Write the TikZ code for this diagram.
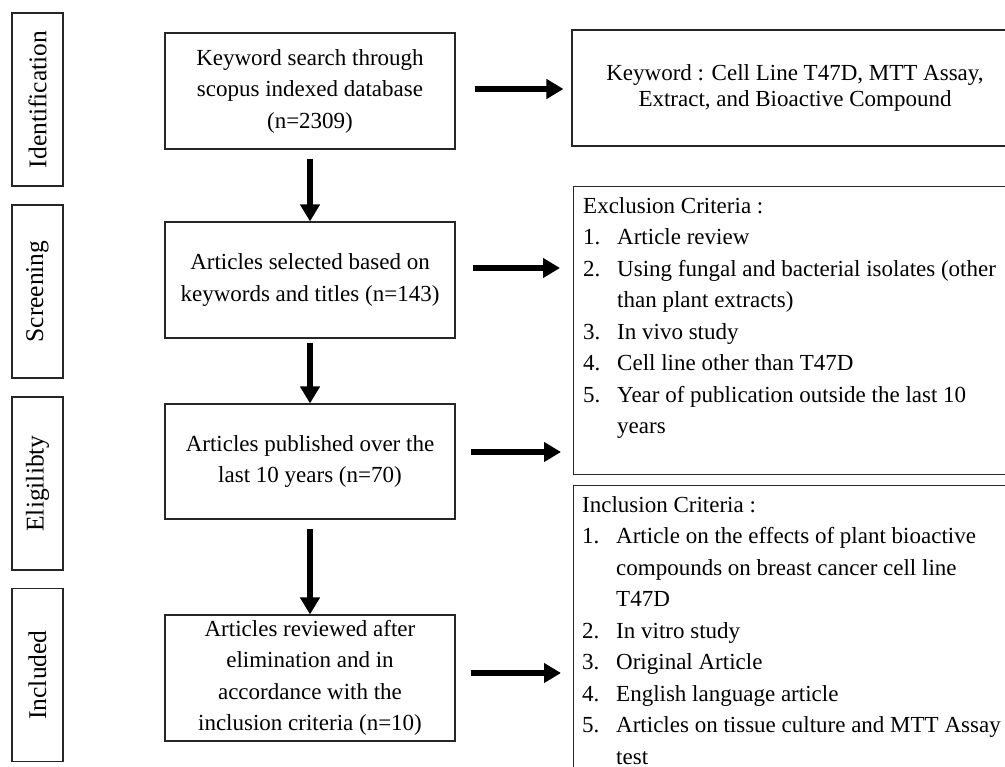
\documentclass[tikz,border=0pt]{standalone}
\usepackage{fontspec}
\setmainfont{Liberation Serif}
\usetikzlibrary{arrows.meta}
\begin{document}
\begin{tikzpicture}[x=1pt,y=-1pt,
  frame/.style={draw=black!85, line width=1.1pt, inner sep=0pt},
  box/.style={frame, align=center, font=\fontsize{23}{31.5}\selectfont, minimum width=290pt},
  stage/.style={frame, rotate=90, minimum width=173pt, minimum height=51pt, font=\fontsize{25.5}{30}\selectfont},
  listtext/.style={anchor=north west, inner sep=0pt, align=left, font=\fontsize{23}{31.5}\selectfont},
  bigarrow/.style={line width=6.5pt, -{Triangle[length=17pt,width=19pt]}},
]
\useasboundingbox (0,0) rectangle (1005,767);
\clip (0,0) rectangle (1005,767);

% stage labels
\node[stage] (s1) at (37.5,99.5) {Identification};
\node[stage] (s2) at (37.5,291.5) {Screening};
\node[stage] (s3) at (37.5,483.5) {Eligilibty};
\node[stage] (s4) at (37.5,675) {Included};

% main boxes
\node[box, minimum height=116pt] (b1) at (310,91) {Keyword search through\\scopus indexed database\\(n=2309)};
\node[box, minimum height=116pt] (b2) at (310,280) {Articles selected based on\\keywords and titles (n=143)};
\node[box, minimum height=115pt] (b3) at (310,461.5) {Articles published over the\\last 10 years (n=70)};
\node[box, minimum height=126pt] (b4) at (310,678) {Articles reviewed after\\elimination and in\\accordance with the\\inclusion criteria (n=10)};

% right boxes
\node[frame, align=center, font=\fontsize{23}{25.5}\selectfont, minimum width=446pt, minimum height=116pt] (kw) at (795,88) {Keyword : Cell Line T47D, MTT Assay,\\Extract, and Bioactive Compound};
\node[frame, anchor=north west, minimum width=450pt, minimum height=288pt] (exc) at (573,186) {};
\node[frame, anchor=north west, minimum width=450pt, minimum height=320pt] (inc) at (573,485) {};

\node[listtext] (exct) at (583,197) {Exclusion Criteria :\\
\makebox[34pt][l]{1.}Article review\\
\makebox[34pt][l]{2.}Using fungal and bacterial isolates (other\\
\hspace*{34pt}than plant extracts)\\
\makebox[34pt][l]{3.}In vivo study\\
\makebox[34pt][l]{4.}Cell line other than T47D\\
\makebox[34pt][l]{5.}Year of publication outside the last 10\\
\hspace*{34pt}years};

\node[listtext] (inct) at (582,496) {Inclusion Criteria :\\
\makebox[34pt][l]{1.}Article on the effects of plant bioactive\\
\hspace*{34pt}compounds on breast cancer cell line\\
\hspace*{34pt}T47D\\
\makebox[34pt][l]{2.}In vitro study\\
\makebox[34pt][l]{3.}Original Article\\
\makebox[34pt][l]{4.}English language article\\
\makebox[34pt][l]{5.}Articles on tissue culture and MTT Assay\\
\hspace*{34pt}test};

% down arrows
\draw[bigarrow] ([yshift=-9pt]b1.south) -- (b2.north);
\draw[bigarrow] ([yshift=-4pt]b2.south) -- (b3.north);
\draw[bigarrow] ([yshift=-9pt]b3.south) -- (b4.north);

% right arrows
\coordinate (a1) at ([xshift=19pt,yshift=2pt]b1.east);
\coordinate (a2) at ([xshift=17pt,yshift=12pt]b2.east);
\coordinate (a3) at ([xshift=15pt,yshift=9.5pt]b3.east);
\coordinate (a4) at ([xshift=15pt,yshift=5pt]b4.east);
\draw[bigarrow, shorten >=8pt] (a1) -- (a1 -| kw.west);
\draw[bigarrow, shorten >=13pt] (a2) -- (a2 -| exc.west);
\draw[bigarrow, shorten >=12pt] (a3) -- (a3 -| exc.west);
\draw[bigarrow, shorten >=12pt] (a4) -- (a4 -| inc.west);
\end{tikzpicture}
\end{document}
